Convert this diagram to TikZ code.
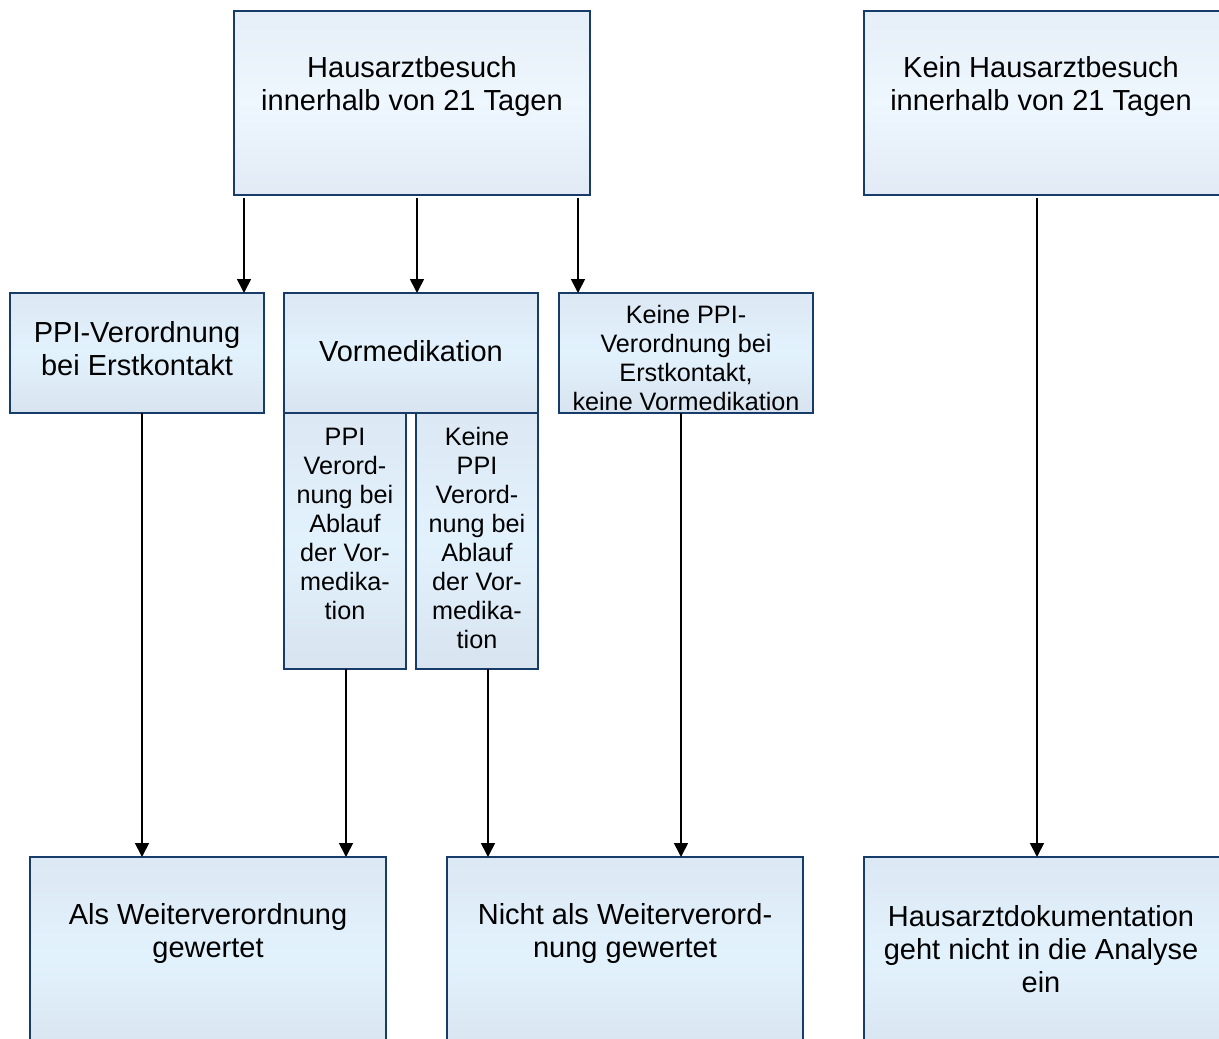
\documentclass[tikz,border=0pt]{standalone}
\usepackage{fontspec}
\setmainfont{Liberation Sans}
\usetikzlibrary{arrows.meta}
\definecolor{bord}{RGB}{23,60,105}
\definecolor{ltop}{RGB}{230,238,247}
\definecolor{lmid}{RGB}{238,247,254}
\definecolor{lbot}{RGB}{226,235,245}
\definecolor{dtop}{RGB}{220,232,244}
\definecolor{dmid}{RGB}{226,242,253}
\definecolor{dbot}{RGB}{216,228,240}
\tikzset{
  box/.style={draw=bord, line width=1.8pt, rectangle, inner sep=0pt, outer sep=0pt, anchor=north west},
  lightbox/.style={box, top color=ltop, bottom color=lbot, middle color=lmid},
  darkbox/.style={box, top color=dtop, bottom color=dbot, middle color=dmid},
  bigtxt/.style={align=center, inner sep=0pt, font=\fontsize{29}{33}\selectfont},
  smalltxt/.style={align=center, inner sep=0pt, font=\fontsize{25.2}{29}\selectfont},
  arr/.style={line width=1.7pt, -{Triangle[width=14pt,length=14pt]}}
}
\begin{document}
\begin{tikzpicture}[x=1pt,y=-1pt]
\useasboundingbox (0,0) rectangle (1219,1039);
% boxes
\node[lightbox, minimum width=356pt, minimum height=184pt] (A) at (234,11) {};
\node[lightbox, minimum width=370pt, minimum height=184pt] (B) at (864,11) {};
\node[darkbox, minimum width=254pt, minimum height=120pt] (ppi) at (10,293) {};
\node[darkbox, minimum width=254pt, minimum height=120pt] (vormed) at (284,293) {};
\node[darkbox, minimum width=254pt, minimum height=120pt] (keine) at (559,293) {};
\node[darkbox, minimum width=122pt, minimum height=256pt] (subppi) at (284,413) {};
\node[darkbox, minimum width=122pt, minimum height=256pt] (subkeine) at (416,413) {};
\node[darkbox, minimum width=356pt, minimum height=200pt] (als) at (30,857) {};
\node[darkbox, minimum width=356pt, minimum height=200pt] (nicht) at (447,857) {};
\node[darkbox, minimum width=370pt, minimum height=200pt] (haus) at (864,857) {};
% texts
\node[bigtxt] (tA) at (412,86) {Hausarztbesuch\\innerhalb von 21 Tagen};
\node[bigtxt] (tB) at (1041,86) {Kein Hausarztbesuch\\innerhalb von 21 Tagen};
\node[bigtxt] (tppi) at (137,349) {PPI-Verordnung\\bei Erstkontakt};
\node[bigtxt] (tvormed) at (411,351) {Vormedikation};
\node[smalltxt] (tkeine) at (686,358) {Keine PPI-\\Verordnung bei\\Erstkontakt,\\keine Vormedikation};
\node[smalltxt] (tsubppi) at (345,524) {PPI\\Verord-\\nung bei\\Ablauf\\der Vor-\\medika-\\tion};
\node[smalltxt] (tsubkeine) at (477,538) {Keine\\PPI\\Verord-\\nung bei\\Ablauf\\der Vor-\\medika-\\tion};
\node[bigtxt] (tals) at (208,933) {Als Weiterverordnung\\gewertet};
\node[bigtxt] (tnicht) at (625,933) {Nicht als Weiterverord-\\nung gewertet};
\node[bigtxt] (thaus) at (1041,949) {Hausarztdokumentation\\geht nicht in die Analyse\\ein};
% arrows
\draw[arr] ([xshift=10pt,yshift=-3pt]A.south west) -- ([xshift=234pt]ppi.north west);
\draw[arr] ([xshift=183pt,yshift=-3pt]A.south west) -- ([xshift=133pt]vormed.north west);
\draw[arr] ([xshift=344pt,yshift=-3pt]A.south west) -- ([xshift=19pt]keine.north west);
\draw[arr] ([xshift=173pt,yshift=-3pt]B.south west) -- ([xshift=173pt]haus.north west);
\draw[arr] ([xshift=132pt]ppi.south west) -- ([xshift=112pt]als.north west);
\draw[arr] ([xshift=62pt]subppi.south west) -- ([xshift=316pt]als.north west);
\draw[arr] ([xshift=72pt]subkeine.south west) -- ([xshift=41pt]nicht.north west);
\draw[arr] ([xshift=122pt]keine.south west) -- ([xshift=234pt]nicht.north west);
\end{tikzpicture}
\end{document}
